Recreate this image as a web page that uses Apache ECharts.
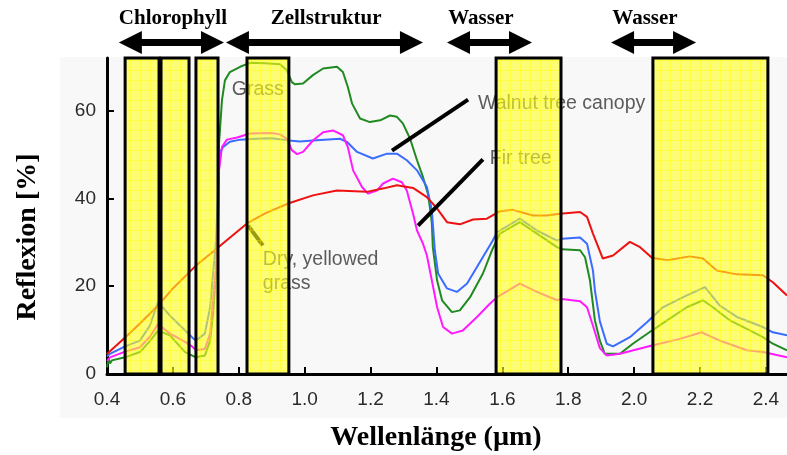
<!DOCTYPE html>
<html>
<head>
<meta charset="utf-8">
<script src="https://cdn.jsdelivr.net/npm/echarts@6/dist/echarts.min.js"></script>
<style>html,body{margin:0;padding:0;background:#fff}#c{width:787px;height:455px}</style>
</head>
<body>
<div id="c"></div>
<script>
// ---------- data ----------
const xTicks = [0.4, 0.6, 0.8, 1.0, 1.2, 1.4, 1.6, 1.8, 2.0, 2.2, 2.4];
const yTicks = [0, 20, 40, 60];

const grass = [[0.40,1.5],[0.405,3.5],[0.409,2.4],[0.415,3.1],[0.455,3.8],[0.50,5.0],[0.53,7.5],[0.555,9.9],[0.591,8.8],[0.637,5.0],[0.67,3.8],[0.697,4.2],[0.713,7.6],[0.722,13.8],[0.731,22.9],[0.737,30.4],[0.740,52.5],[0.749,62.4],[0.758,66.9],[0.773,68.8],[0.804,70.0],[0.834,70.9],[0.88,70.8],[0.925,70.6],[0.946,69.2],[0.961,66.5],[0.971,66.0],[0.995,66.2],[1.025,68.1],[1.056,69.6],[1.098,70.0],[1.116,68.8],[1.131,65.4],[1.144,61.6],[1.168,58.2],[1.198,57.4],[1.229,57.8],[1.259,58.9],[1.28,58.6],[1.298,57.1],[1.32,53.6],[1.341,48.7],[1.359,44.9],[1.374,41.1],[1.38,38.0],[1.386,34.3],[1.389,28.9],[1.402,21.3],[1.417,16.8],[1.447,14.1],[1.471,14.5],[1.502,17.5],[1.541,22.9],[1.571,28.6],[1.593,32.0],[1.653,34.6],[1.705,32.0],[1.766,28.9],[1.781,28.4],[1.836,28.2],[1.851,26.6],[1.866,21.3],[1.881,12.2],[1.896,7.6],[1.911,4.6],[1.957,4.6],[1.996,6.9],[2.054,9.9],[2.10,12.2],[2.16,15.2],[2.209,16.8],[2.239,15.2],[2.291,12.2],[2.391,8.4],[2.421,6.9],[2.464,5.4]];

const walnut = [[0.40,4.0],[0.409,4.6],[0.455,6.3],[0.50,7.6],[0.53,11.0],[0.555,16.4],[0.591,13.3],[0.637,9.9],[0.658,8.4],[0.67,7.6],[0.697,9.2],[0.713,15.2],[0.722,22.9],[0.731,30.4],[0.737,42.0],[0.742,50.3],[0.752,51.7],[0.773,52.9],[0.804,53.4],[0.85,53.6],[0.90,53.7],[0.952,53.2],[0.986,53.0],[1.025,53.2],[1.107,53.6],[1.128,52.9],[1.159,50.6],[1.207,49.1],[1.25,50.2],[1.28,50.2],[1.31,48.7],[1.341,46.4],[1.371,42.6],[1.386,37.3],[1.395,28.2],[1.405,22.9],[1.432,19.5],[1.462,18.7],[1.493,20.6],[1.532,25.5],[1.571,30.4],[1.584,32.3],[1.653,35.4],[1.705,32.7],[1.766,30.4],[1.781,30.8],[1.836,31.1],[1.857,29.7],[1.875,23.6],[1.881,19.0],[1.896,12.0],[1.917,6.9],[1.936,6.3],[1.987,8.4],[2.039,11.8],[2.087,15.2],[2.16,17.9],[2.215,19.8],[2.26,15.6],[2.312,13.0],[2.391,10.7],[2.421,9.5],[2.464,8.8]];

const fir = [[0.40,3.0],[0.409,3.8],[0.455,5.1],[0.50,6.1],[0.53,8.5],[0.555,11.4],[0.591,9.2],[0.637,7.3],[0.658,6.3],[0.67,5.4],[0.697,5.7],[0.713,9.2],[0.722,16.8],[0.731,24.4],[0.737,35.0],[0.740,46.4],[0.749,51.7],[0.764,53.4],[0.795,53.9],[0.834,54.8],[0.90,54.9],[0.925,54.6],[0.946,53.6],[0.961,51.0],[0.977,50.1],[0.995,50.6],[1.025,53.2],[1.056,55.1],[1.086,55.5],[1.116,54.4],[1.131,51.7],[1.147,46.4],[1.174,42.6],[1.192,41.1],[1.219,41.8],[1.238,43.4],[1.268,44.5],[1.295,43.7],[1.31,41.8],[1.329,36.5],[1.341,32.7],[1.359,29.7],[1.371,27.0],[1.386,21.3],[1.402,15.2],[1.42,10.7],[1.447,9.2],[1.48,9.9],[1.523,13.0],[1.562,16.0],[1.584,17.5],[1.653,20.6],[1.705,18.7],[1.766,16.8],[1.781,17.1],[1.836,16.6],[1.857,15.2],[1.875,11.0],[1.896,5.9],[1.917,4.2],[1.957,4.6],[2.054,6.5],[2.139,8.0],[2.205,9.5],[2.26,7.6],[2.342,5.4],[2.391,5.0],[2.464,3.8]];

const dryGrass = [[0.40,4.5],[0.409,5.2],[0.455,8.3],[0.50,11.5],[0.555,15.6],[0.60,19.5],[0.67,24.7],[0.737,28.8],[0.78,31.5],[0.825,34.3],[0.88,36.6],[0.952,38.9],[1.025,40.7],[1.098,41.8],[1.189,41.5],[1.24,42.3],[1.28,43.0],[1.329,42.4],[1.371,40.3],[1.402,37.7],[1.432,34.6],[1.471,34.1],[1.511,35.2],[1.553,35.4],[1.593,37.1],[1.632,37.4],[1.693,36.1],[1.735,36.1],[1.775,36.5],[1.836,36.9],[1.857,35.8],[1.875,32.0],[1.905,26.3],[1.936,27.0],[1.987,30.1],[2.018,28.9],[2.054,26.5],[2.10,25.9],[2.169,26.8],[2.209,26.3],[2.251,23.6],[2.312,22.7],[2.391,22.5],[2.421,20.9],[2.464,17.9]];

// absorption / window bands (wavelength ranges)
const bands = [[0.455,0.558],[0.564,0.649],[0.670,0.737],[0.825,0.952],[1.581,1.778],[2.057,2.406]];
// top arrows (wavelength ranges) and labels
const arrowRanges = [[0.436,0.755],[0.761,1.359],[1.432,1.690],[1.930,2.188]];
const arrowLabels = ['Chlorophyll','Zellstruktur','Wasser','Wasser'];
const arrowLabelCenters = [0.60,1.065,1.535,2.033];
// annotations
const annotTexts = ['Grass','Walnut tree canopy','Fir tree','Dry, yellowed\ngrass'];
const annotAnchors = [[0.779,64.7],[1.526,61.6],[1.562,49.1],[0.873,23.4]];
const leaderLines = [[[1.265,50.9],[1.496,62.5]],[[1.344,33.8],[1.541,48.9]],[[0.828,33.8],[0.873,29.3]]];

// ---------- chart ----------
const chart = echarts.init(document.getElementById('c'), null, {renderer:'canvas'});

const pc = document.createElement('canvas');
pc.width = 10; pc.height = 10;
const g = pc.getContext('2d');
g.clearRect(0,0,10,10);
g.fillStyle = 'rgba(255,255,30,0.6)';
g.fillRect(1,1,9,9);
g.fillStyle = 'rgba(255,255,0,0.75)';
g.fillRect(0,0,10,1);
g.fillRect(0,1,1,9);

const lineSeries = (name, data, color) => ({
  name, type:'line', data, showSymbol:false, symbol:'none', z:2,
  lineStyle:{color, width:2}, animation:false, silent:true
});

chart.setOption({
  animation:false,
  grid:{left:107, right:0, top:58, bottom:81, containLabel:false},
  xAxis:{
    type:'value', min:0.4, max:2.464,
    axisLine:{show:true, onZero:false, lineStyle:{color:'#000', width:3}},
    axisTick:{show:true, inside:true, length:7, lineStyle:{color:'#000', width:2}, customValues:xTicks},
    axisLabel:{customValues:xTicks, formatter:v=>v.toFixed(1), color:'#2a2a2a', fontSize:19, fontFamily:'Liberation Sans', margin:16},
    splitLine:{show:false}
  },
  yAxis:{
    type:'value', min:0, max:72,
    axisLine:{show:true, onZero:false, lineStyle:{color:'#000', width:3}},
    axisTick:{show:true, inside:true, length:7, lineStyle:{color:'#000', width:2}, customValues:yTicks},
    axisLabel:{customValues:yTicks, color:'#2a2a2a', fontSize:19, fontFamily:'Liberation Sans', margin:11},
    splitLine:{show:false}
  },
  series:[
    lineSeries('Grass', grass, '#1f8a1f'),
    lineSeries('Walnut tree canopy', walnut, '#3a6cff'),
    lineSeries('Fir tree', fir, '#ff1aff'),
    lineSeries('Dry, yellowed grass', dryGrass, '#ee1111'),
    {
      name:'annotations', type:'scatter', z:3, silent:true, animation:false,
      symbolSize:0,
      data: annotAnchors.map((p,i)=>({value:p, label:{formatter:annotTexts[i]}})),
      label:{show:true, position:'right', distance:0, color:'#333', fontSize:19.5, fontFamily:'Liberation Sans', lineHeight:24, align:'left', verticalAlign:'middle'},
      markLine:{
        z:4, silent:true, symbol:['none','none'], animation:false,
        lineStyle:{color:'#000', width:4, type:'solid'},
        label:{show:false},
        data: leaderLines.map(l=>[{coord:l[0]},{coord:l[1]}])
      }
    },
    {
      name:'bands', type:'line', data:[], silent:true, animation:false,
      markArea:{
        z:10, silent:true, animation:false,
        itemStyle:{color:{image:pc, repeat:'repeat'}, borderColor:'#000', borderWidth:3},
        data: bands.map(b=>[{xAxis:b[0], yAxis:0},{xAxis:b[1], yAxis:72}])
      }
    }
  ],
  graphic:[
    {type:'rect', id:'bg', z:-10, shape:{x:60, y:57, width:727, height:361}, style:{fill:'#f9f8f9'}, silent:true},
    {type:'text', id:'xt', x:436, y:438, style:{text:'Wellenlänge (µm)', font:'bold 28px "Liberation Serif"', fill:'#000', align:'center', verticalAlign:'middle'}},
    {type:'text', id:'yt', x:28, y:237, rotation:Math.PI/2, style:{text:'Reflexion [%]', font:'bold 28px "Liberation Serif"', fill:'#000', align:'center', verticalAlign:'middle'}}
  ]
});

// arrows & labels from wavelength ranges
const px = w => chart.convertToPixel({xAxisIndex:0}, w);
const yc = 42.5, hl = 23, hh = 11.5, st = 3.5;
const extra = [];
arrowRanges.forEach((r,i)=>{
  const a = px(r[0]), b = px(r[1]);
  extra.push({type:'polygon', id:'ar'+i, silent:true, z:20,
    shape:{points:[[a,yc],[a+hl,yc-hh],[a+hl,yc-st],[b-hl,yc-st],[b-hl,yc-hh],[b,yc],[b-hl,yc+hh],[b-hl,yc+st],[a+hl,yc+st],[a+hl,yc+hh]]},
    style:{fill:'#000'}});
  extra.push({type:'text', id:'al'+i, z:20, x:px(arrowLabelCenters[i]), y:19,
    style:{text:arrowLabels[i], font:'bold 21px "Liberation Serif"', fill:'#000', align:'center', verticalAlign:'middle'}});
});
chart.setOption({graphic:extra});
</script>
</body>
</html>
